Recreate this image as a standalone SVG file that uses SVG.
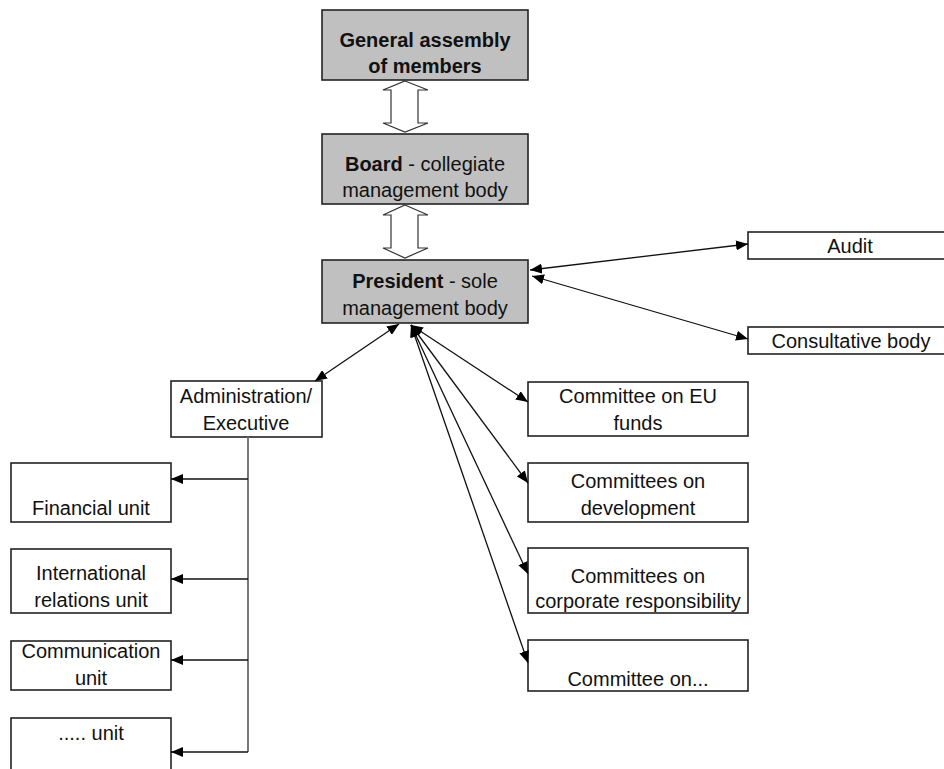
<svg xmlns="http://www.w3.org/2000/svg" width="944" height="769" viewBox="0 0 944 769">
  <defs>
    <style>
      .box { fill: #ffffff; stroke: #222222; stroke-width: 1.6; }
      .gbox { fill: #c0c0c0; stroke: #222222; stroke-width: 1.6; }
      .t { font-family: "Liberation Sans", Arial, sans-serif; font-size: 20px; fill: #111111; text-anchor: middle; }
      .b { font-weight: bold; }
      .link { stroke: #111111; stroke-width: 1.3; fill: none; marker-end: url(#head); }
      .both { marker-start: url(#head); }
      .hollow { fill: #ffffff; stroke: #333333; stroke-width: 1.2; }
      .trunk { stroke: #777777; stroke-width: 2; fill: none; }
    </style>
    <marker id="head" viewBox="0 0 12 10" refX="12" refY="5" markerWidth="12" markerHeight="10" markerUnits="userSpaceOnUse" orient="auto-start-reverse">
      <path d="M0,0 L12,5 L0,10 Z" fill="#000000"/>
    </marker>
  </defs>

  <!-- top hierarchy -->
  <g id="general-assembly">
    <rect class="gbox" x="322" y="10" width="206" height="70"/>
    <text class="t b" x="425" y="47">General assembly</text>
    <text class="t b" x="425" y="73">of members</text>
  </g>
  <g id="board">
    <rect class="gbox" x="322" y="134" width="206" height="70"/>
    <text class="t" x="425" y="171"><tspan class="b">Board</tspan> - collegiate</text>
    <text class="t" x="425" y="197">management body</text>
  </g>
  <g id="president">
    <rect class="gbox" x="322" y="260" width="206" height="63"/>
    <text class="t" x="425" y="288"><tspan class="b">President</tspan> - sole</text>
    <text class="t" x="425" y="315">management body</text>
  </g>

  <!-- right side bodies -->
  <g id="audit">
    <rect class="box" x="748" y="232" width="210" height="27"/>
    <text class="t" x="850" y="253">Audit</text>
  </g>
  <g id="consultative-body">
    <rect class="box" x="748" y="327" width="210" height="27"/>
    <text class="t" x="851" y="348">Consultative body</text>
  </g>

  <!-- executive branch -->
  <g id="administration">
    <rect class="box" x="171" y="381" width="151" height="56"/>
    <text class="t" x="246" y="403">Administration/</text>
    <text class="t" x="246" y="430">Executive</text>
  </g>
  <g id="financial-unit">
    <rect class="box" x="11" y="463" width="160" height="59"/>
    <text class="t" x="91" y="515">Financial unit</text>
  </g>
  <g id="international-unit">
    <rect class="box" x="11" y="549" width="160" height="64"/>
    <text class="t" x="91" y="580">International</text>
    <text class="t" x="91" y="607">relations unit</text>
  </g>
  <g id="communication-unit">
    <rect class="box" x="11" y="641" width="160" height="49"/>
    <text class="t" x="91" y="658">Communication</text>
    <text class="t" x="91" y="685">unit</text>
  </g>
  <g id="other-unit">
    <rect class="box" x="11" y="718" width="160" height="70"/>
    <text class="t" x="91" y="740">..... unit</text>
  </g>

  <!-- committees -->
  <g id="committee-eu-funds">
    <rect class="box" x="528" y="382" width="220" height="54"/>
    <text class="t" x="638" y="403">Committee on EU</text>
    <text class="t" x="638" y="430">funds</text>
  </g>
  <g id="committee-development">
    <rect class="box" x="528" y="463" width="220" height="59"/>
    <text class="t" x="638" y="488">Committees on</text>
    <text class="t" x="638" y="515">development</text>
  </g>
  <g id="committee-csr">
    <rect class="box" x="528" y="548" width="220" height="65"/>
    <text class="t" x="638" y="583">Committees on</text>
    <text class="t" x="638" y="608">corporate responsibility</text>
  </g>
  <g id="committee-other">
    <rect class="box" x="528" y="640" width="220" height="51"/>
    <text class="t" x="638" y="686">Committee on...</text>
  </g>

  <g id="connectors">
    <!-- hollow two-way arrows between the governing bodies -->
    <polygon class="hollow" points="405,81 428,90 418,90 418,123 428,123 405,132 383,123 391,123 391,90 383,90"/>
    <polygon class="hollow" points="405,205 428,215 418,215 418,248 428,248 405,258 383,248 391,248 391,215 383,215"/>

    <!-- president to right-side bodies -->
    <line class="link both" x1="530" y1="270" x2="748" y2="244"/>
    <line class="link both" x1="532" y1="276" x2="748" y2="339"/>

    <!-- president to administration -->
    <line class="link both" x1="399" y1="324" x2="315" y2="381"/>

    <!-- president to committees -->
    <line class="link both" x1="411" y1="325" x2="528" y2="402"/>
    <line class="link both" x1="411" y1="325" x2="528" y2="483"/>
    <line class="link both" x1="411" y1="325" x2="528" y2="574"/>
    <line class="link both" x1="411" y1="325" x2="528" y2="663"/>

    <!-- administration trunk and branches to units -->
    <polyline class="trunk" points="248,437 248,752"/>
    <line class="link" x1="248" y1="479" x2="171" y2="479"/>
    <line class="link" x1="248" y1="579" x2="171" y2="579"/>
    <line class="link" x1="248" y1="660" x2="171" y2="660"/>
    <line class="link" x1="248" y1="752" x2="171" y2="752"/>
  </g>
</svg>
